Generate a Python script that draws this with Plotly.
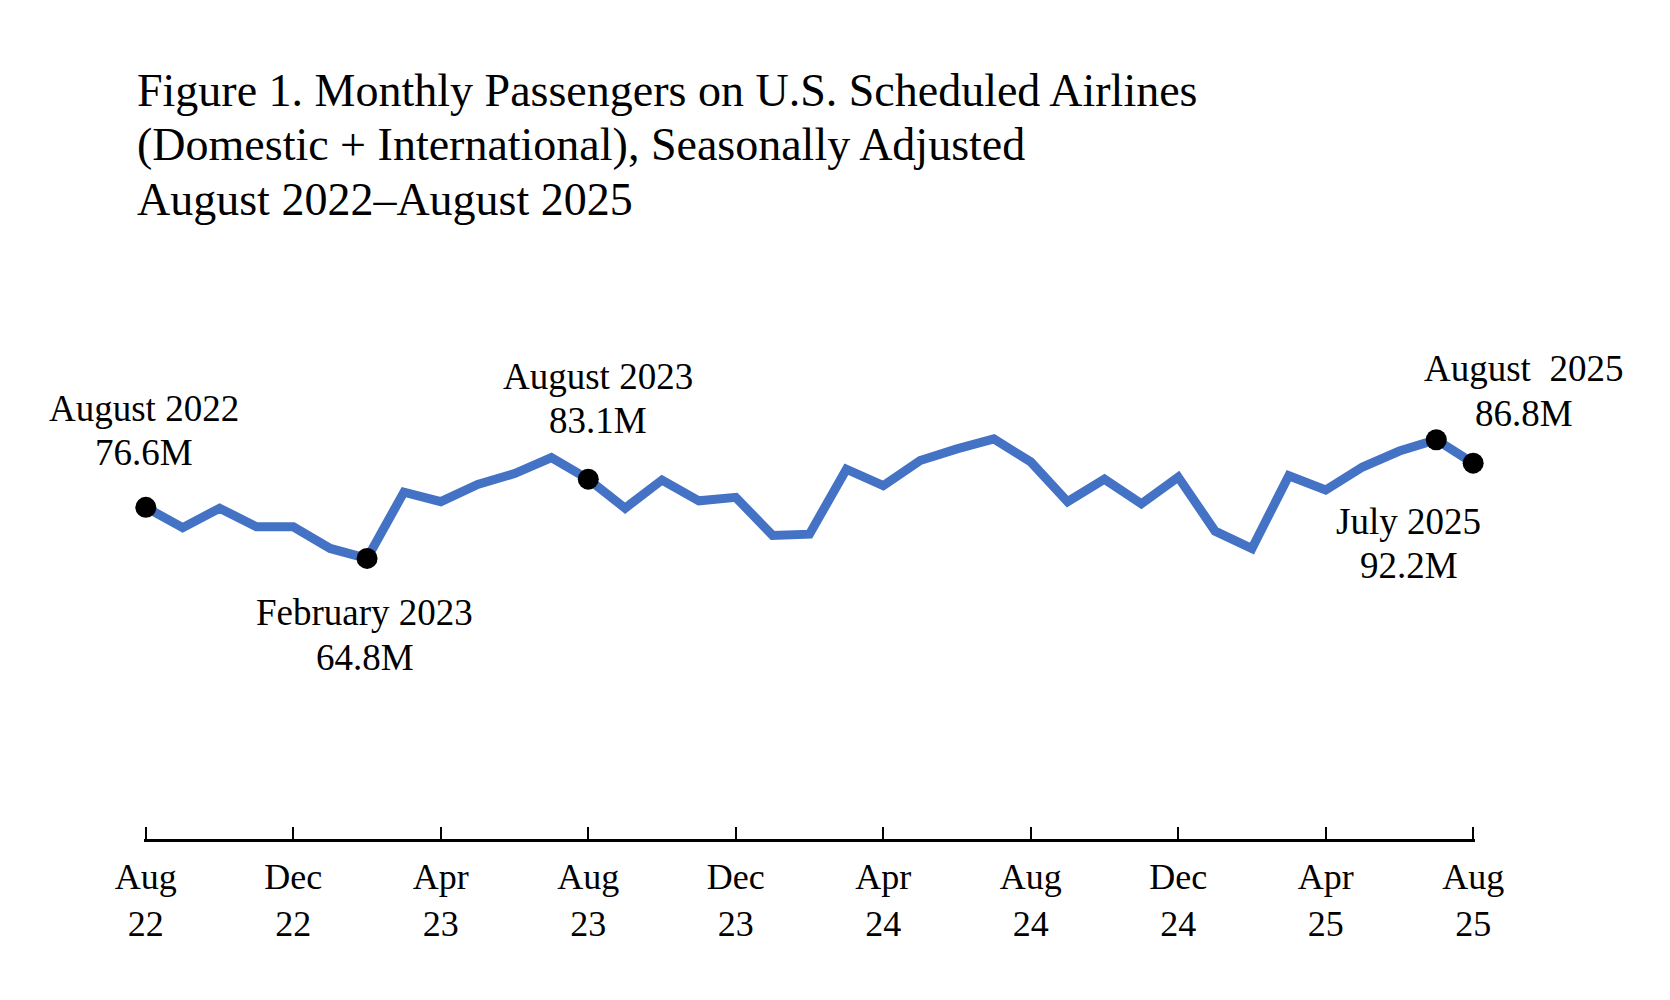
import plotly.graph_objects as go

# ======================================================
# Data
# ======================================================

months = [
    "2022-08", "2022-09", "2022-10", "2022-11", "2022-12",
    "2023-01", "2023-02", "2023-03", "2023-04", "2023-05", "2023-06",
    "2023-07", "2023-08", "2023-09", "2023-10", "2023-11", "2023-12",
    "2024-01", "2024-02", "2024-03", "2024-04", "2024-05", "2024-06",
    "2024-07", "2024-08", "2024-09", "2024-10", "2024-11", "2024-12",
    "2025-01", "2025-02", "2025-03", "2025-04", "2025-05", "2025-06",
    "2025-07", "2025-08",
]

# passengers, millions (seasonally adjusted)
passengers = [
    76.6, 71.9, 76.4, 72.1, 72.1,
    67.1, 64.8, 80.1, 77.9, 81.9, 84.4,
    88.1, 83.1, 76.4, 82.9, 78.1, 78.9,
    70.1, 70.4, 85.4, 81.6, 87.4, 90.1,
    92.4, 87.1, 77.9, 83.1, 77.4, 83.6,
    71.1, 67.1, 83.9, 80.6, 85.9, 89.6,
    92.2, 86.8,
]

highlight_months = ["2022-08", "2023-02", "2023-08", "2025-07", "2025-08"]
highlight_values = [76.6, 64.8, 83.1, 92.2, 86.8]
highlight_names = ["August 2022", "February 2023", "August 2023",
                   "July 2025", "August \u00a02025"]
highlight_text = ["76.6M", "64.8M", "83.1M", "92.2M", "86.8M"]

tick_months = ["2022-08", "2022-12", "2023-04", "2023-08", "2023-12",
               "2024-04", "2024-08", "2024-12", "2025-04", "2025-08"]
tick_labels = ["Aug<br>22", "Dec<br>22", "Apr<br>23", "Aug<br>23", "Dec<br>23",
               "Apr<br>24", "Aug<br>24", "Dec<br>24", "Apr<br>25", "Aug<br>25"]

title_lines = [
    "Figure 1. Monthly Passengers on U.S. Scheduled Airlines",
    "(Domestic + International), Seasonally Adjusted",
    "August 2022\u2013August 2025",
]

FONT = "Liberation Serif, Times New Roman, serif"

# ======================================================
# Figure
# ======================================================

fig = go.Figure()

fig.add_trace(go.Scatter(
    x=months,
    y=passengers,
    mode="lines",
    line=dict(color="#4472C4", width=9),
    cliponaxis=False,
    hoverinfo="skip"
))

fig.add_trace(go.Scatter(
    x=highlight_months,
    y=highlight_values,
    mode="markers",
    marker=dict(color="black", size=21),
    cliponaxis=False
))

# callout positions in axis-domain fractions (name line, value line)
label_x = [0, 0.1657, 0.3411, 0.9504, 1.0368]
name_y = [0.995, 0.522, 1.069, 0.734, 1.086]
value_y = [0.892, 0.419, 0.966, 0.631, 0.983]

for lx, ny, vy, name, val in zip(label_x, name_y, value_y,
                                 highlight_names, highlight_text):
    for yy, txt in ((ny, name), (vy, val)):
        fig.add_annotation(
            x=lx, y=yy, xref="x domain", yref="y domain",
            text=txt, showarrow=False,
            xanchor="center", yanchor="middle",
            font=dict(family=FONT, size=37, color="black")
        )

title_y = [1.729, 1.603, 1.478]
for yy, line in zip(title_y, title_lines):
    fig.add_annotation(
        x=-0.0064, y=yy, xref="x domain", yref="y domain",
        text=line, showarrow=False,
        xanchor="left", yanchor="middle",
        font=dict(family=FONT, size=46, color="black")
    )

fig.update_layout(
    width=1670,
    height=1000,
    margin=dict(l=135.5, r=202.5, t=398, b=169),
    paper_bgcolor="white",
    plot_bgcolor="white",
    showlegend=False,
    font=dict(family=FONT, size=36, color="black"),
    xaxis=dict(
        type="category",
        range=[-0.05, 36.05],
        tickmode="array",
        tickvals=tick_months,
        ticktext=tick_labels,
        ticks="inside",
        ticklen=12,
        tickwidth=2,
        tickcolor="black",
        showline=True,
        linecolor="black",
        linewidth=2.5,
        showgrid=False,
        zeroline=False,
        tickfont=dict(family=FONT, size=36, color="black"),
        ticklabelstandoff=4,
    ),
    yaxis=dict(
        range=[0, 100],
        visible=False,
        showgrid=False,
        zeroline=False,
    ),
)

fig.write_html("out.html")
